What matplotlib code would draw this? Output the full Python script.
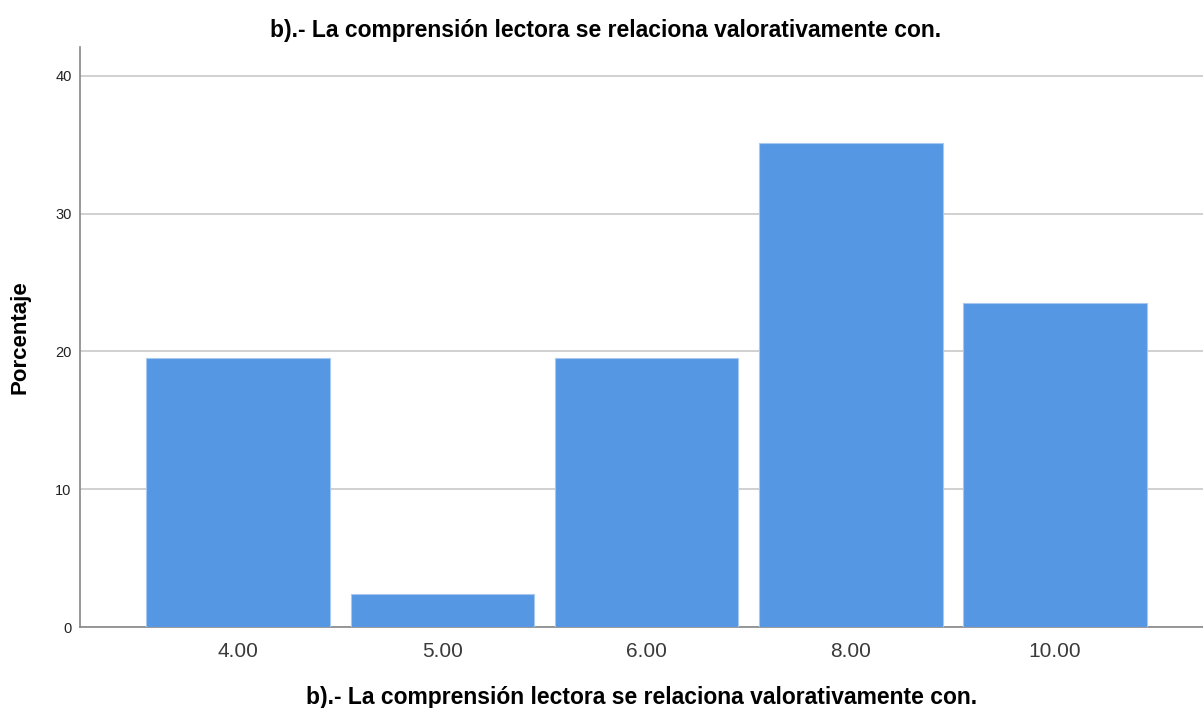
import matplotlib.pyplot as plt

plt.rcParams['font.family'] = ['Liberation Sans', 'DejaVu Sans']

categories = ['4.00', '5.00', '6.00', '8.00', '10.00']
porcentaje = [19.5, 2.4, 19.5, 35.1, 23.5]
titulo = 'b).- La comprensión lectora se relaciona valorativamente con.'

fig = plt.figure(figsize=(12.03, 7.08), dpi=100)
ax = fig.add_axes([0.0665, 0.1144, 0.9335, 0.8192])

x = range(len(categories))
ax.bar(x, porcentaje, width=0.9, color='#5597e2', edgecolor='#a9c8f0', linewidth=0.8, zorder=3)

ax.set_xlim(-0.775, 4.725)
ax.set_ylim(0, 42.1)
ax.set_yticks([0, 10, 20, 30, 40])
ax.set_xticks(list(x))
ax.set_xticklabels(categories, fontsize=15, color='#3a3a3a')
ax.tick_params(axis='x', length=0, pad=11)
ax.tick_params(axis='y', length=0, pad=6, labelsize=10.5, labelcolor='#222222')

ax.grid(axis='y', color='#c8c8c8', linewidth=1.2, zorder=0)
for side in ['top', 'right']:
    ax.spines[side].set_visible(False)
for side in ['left', 'bottom']:
    ax.spines[side].set_color('#888888')
    ax.spines[side].set_linewidth(1.2)

ax.set_ylabel('Porcentaje', fontsize=16, fontweight='bold', labelpad=18)

# titulo centrado en la figura, etiqueta x centrada en el eje
fig.text(0.503, 0.957, titulo, fontsize=16.5, fontweight='bold', ha='center', va='center')
ax.set_xlabel(titulo, fontsize=16.5, fontweight='bold', labelpad=18)

fig.savefig('out.png', dpi=100)
